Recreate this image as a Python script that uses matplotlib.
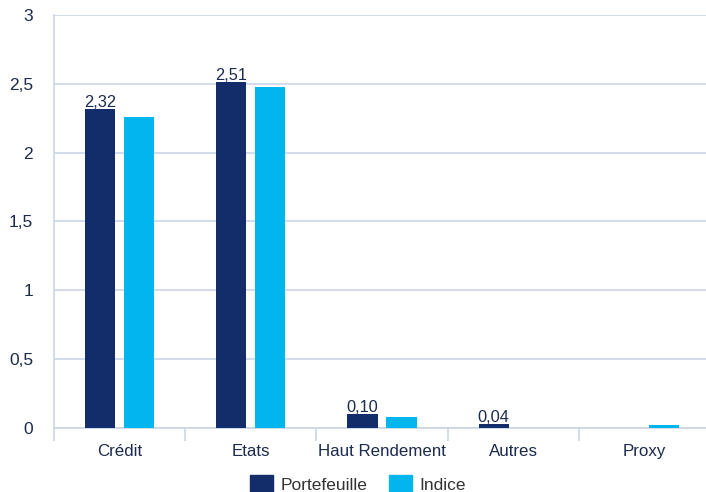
import matplotlib
matplotlib.use("Agg")
import matplotlib.pyplot as plt
import numpy as np
from matplotlib.patches import Patch

categories = ["Crédit", "Etats", "Haut Rendement", "Autres", "Proxy"]
portefeuille = [2.32, 2.51, 0.10, 0.03, 0.0]
indice = [2.26, 2.48, 0.08, 0.0, 0.025]
port_labels = ["2,32", "2,51", "0,10", "0,04", None]
yticks = [0, 0.5, 1, 1.5, 2, 2.5, 3]
ytick_labels = ["0", "0,5", "1", "1,5", "2", "2,5", "3"]

navy = "#122d69"
cyan = "#00b6ec"
grid = "#cad5e7"
text_col = "#1c2a4d"

plt.rcParams['font.family'] = ['Liberation Sans', 'DejaVu Sans']

fig = plt.figure(figsize=(7.06, 4.92), dpi=100)
ax = fig.add_axes([54/706, 1-428/492, (710-54)/706, (428-15)/492])

x = np.arange(len(categories))
w = 0.23
off = 0.148
ax.bar(x - off, portefeuille, width=w, color=navy, zorder=3)
ax.bar(x + off, indice, width=w, color=cyan, zorder=3)

for xi, v, lab in zip(x, portefeuille, port_labels):
    if lab:
        ax.annotate(lab, (xi - off, v), xytext=(0, 1.5), textcoords='offset points',
                    ha='center', va='baseline', fontsize=11.8,
                    color=text_col, zorder=4)

ax.set_xlim(-0.5, len(categories) - 0.5)
ax.set_ylim(0, 3)
ax.set_yticks(yticks)
ax.set_yticklabels(ytick_labels, fontsize=12.5, color=text_col)
ax.set_xticks(x)
ax.set_xticklabels(categories, fontsize=12.2, color=text_col)
ax.set_xticks(np.arange(-0.5, len(categories), 1.0), minor=True)
ax.tick_params(axis='x', which='major', length=0, pad=11.5)
ax.tick_params(axis='x', which='minor', length=9.5, color=grid, width=1.2)
ax.tick_params(axis='y', length=0, pad=15)

ax.yaxis.grid(True, color=grid, linewidth=1.2, zorder=0)
ax.set_axisbelow(True)
for s in ['top', 'right']:
    ax.spines[s].set_visible(False)
ax.spines['left'].set_color(grid)
ax.spines['left'].set_linewidth(1.2)
ax.spines['bottom'].set_color(grid)
ax.spines['bottom'].set_linewidth(1.2)

handles = [Patch(color=navy, label="Portefeuille"), Patch(color=cyan, label="Indice")]
leg = fig.legend(handles=handles, loc='center', bbox_to_anchor=(358/706, 1-484/492),
                 ncol=2, frameon=False, fontsize=12.5, handlelength=1.35,
                 handleheight=1.1, handletextpad=0.45, columnspacing=1.2)
for t in leg.get_texts():
    t.set_color("#333333")

fig.savefig("out.png", dpi=100)
